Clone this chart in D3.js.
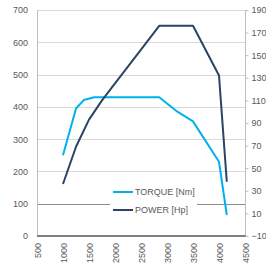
<!DOCTYPE html>
<html>
<head>
<meta charset="utf-8">
<script src="https://cdn.jsdelivr.net/npm/d3@7"></script>
<style>
  body { margin: 0; background: #fff; }
  text { font-family: "Liberation Sans", Arial, sans-serif; fill: #595959; }
</style>
</head>
<body>
<div id="chart"></div>
<script>
// data
const torqueRpm = [1000, 1250, 1400, 1600, 2850, 3200, 3500, 4000, 4150];
const torqueNm  = [250, 395, 421, 430, 430, 385, 355, 230, 65];
const powerRpm  = [1000, 1250, 1500, 1750, 2000, 2500, 2850, 3500, 4000, 4150];
const powerHp   = [36, 69, 93, 110, 125, 155, 176, 176, 132, 38];
const xTicks = [500, 1000, 1500, 2000, 2500, 3000, 3500, 4000, 4500];
const leftTicks = [0, 100, 200, 300, 400, 500, 600, 700];
const rightTicks = [-10, 10, 30, 50, 70, 90, 110, 130, 150, 170, 190];
const seriesNames = ['TORQUE [Nm]', 'POWER [Hp]'];
const colors = ['#00b0f0', '#2a4465'];

let W = 266, H = 265;
let plot = { left: 37, right: 245, top: 10, bottom: 236 };

let svg = d3.select('#chart')
    .append('svg')
    .attr('width', W)
    .attr('height', H);

let x = d3.scaleLinear().domain([500, 4500]).range([plot.left, plot.right]);
let yL = d3.scaleLinear().domain([0, 700]).range([plot.bottom, plot.top]);
let yR = d3.scaleLinear().domain([-10, 190]).range([plot.bottom, plot.top]);

// gridlines
svg.append('g')
    .selectAll('line')
    .data(leftTicks.filter(d => d > 0))
    .join('line')
    .attr('x1', plot.left).attr('x2', plot.right)
    .attr('y1', d => Math.round(yL(d)) + 0.5)
    .attr('y2', d => Math.round(yL(d)) + 0.5)
    .attr('stroke', d => d === 100 ? '#8c8c8c' : '#d9d9d9')
    .attr('stroke-width', 1);

// axis lines
svg.append('line')
    .attr('x1', plot.left + 0.5).attr('x2', plot.left + 0.5)
    .attr('y1', plot.top).attr('y2', plot.bottom)
    .attr('stroke', '#bfbfbf');
svg.append('line')
    .attr('x1', plot.right + 0.5).attr('x2', plot.right + 0.5)
    .attr('y1', plot.top).attr('y2', plot.bottom)
    .attr('stroke', '#bfbfbf');
svg.append('line')
    .attr('x1', plot.left).attr('x2', plot.right + 1)
    .attr('y1', plot.bottom).attr('y2', plot.bottom)
    .attr('stroke', '#7f7f7f')
    .attr('stroke-width', 2);

// left axis labels
let axL = svg.append('g')
    .attr('transform', `translate(${plot.left}, 0)`)
    .call(d3.axisLeft(yL).tickValues(leftTicks).tickSize(0).tickPadding(9));
axL.select('.domain').remove();
axL.selectAll('text').style('font-size', '9px').attr('fill', '#595959');

// right axis labels
let axR = svg.append('g')
    .attr('transform', `translate(${plot.right + 0.5}, 0)`)
    .call(d3.axisRight(yR).tickValues(rightTicks).tickSize(3).tickPadding(3));
axR.select('.domain').remove();
axR.selectAll('line').attr('stroke', '#bfbfbf');
axR.selectAll('text').style('font-size', '9px').attr('fill', '#595959');

// x labels, rotated
svg.append('g')
    .selectAll('text')
    .data(xTicks)
    .join('text')
    .attr('transform', d => `translate(${x(d) + 1}, ${plot.bottom + 7}) rotate(-90)`)
    .attr('text-anchor', 'end')
    .attr('dy', '0.35em')
    .style('font-size', '9px')
    .text(d => d);

// series lines
let lineT = d3.line().x((d, i) => x(torqueRpm[i])).y(d => yL(d));
let lineP = d3.line().x((d, i) => x(powerRpm[i])).y(d => yR(d));

svg.append('path')
    .datum(torqueNm)
    .attr('d', lineT)
    .attr('fill', 'none')
    .attr('stroke', colors[0])
    .attr('stroke-width', 2)
    .attr('stroke-linejoin', 'round');

svg.append('path')
    .datum(powerHp)
    .attr('d', lineP)
    .attr('fill', 'none')
    .attr('stroke', colors[1])
    .attr('stroke-width', 2)
    .attr('stroke-linejoin', 'round');

// legend
let legend = svg.append('g');
legend.append('rect')
    .attr('x', 110).attr('y', 182)
    .attr('width', 87).attr('height', 38)
    .attr('fill', '#fff');

let items = legend.selectAll('.item')
    .data(seriesNames)
    .join('g')
    .attr('class', 'item')
    .attr('transform', (d, i) => `translate(113, ${192 + i * 18})`);

items.append('line')
    .attr('x1', 0).attr('x2', 20)
    .attr('stroke', (d, i) => colors[i])
    .attr('stroke-width', 2);

items.append('text')
    .attr('x', 22)
    .attr('dy', '0.35em')
    .style('font-size', '9px')
    .text(d => d);
</script>
</body>
</html>
